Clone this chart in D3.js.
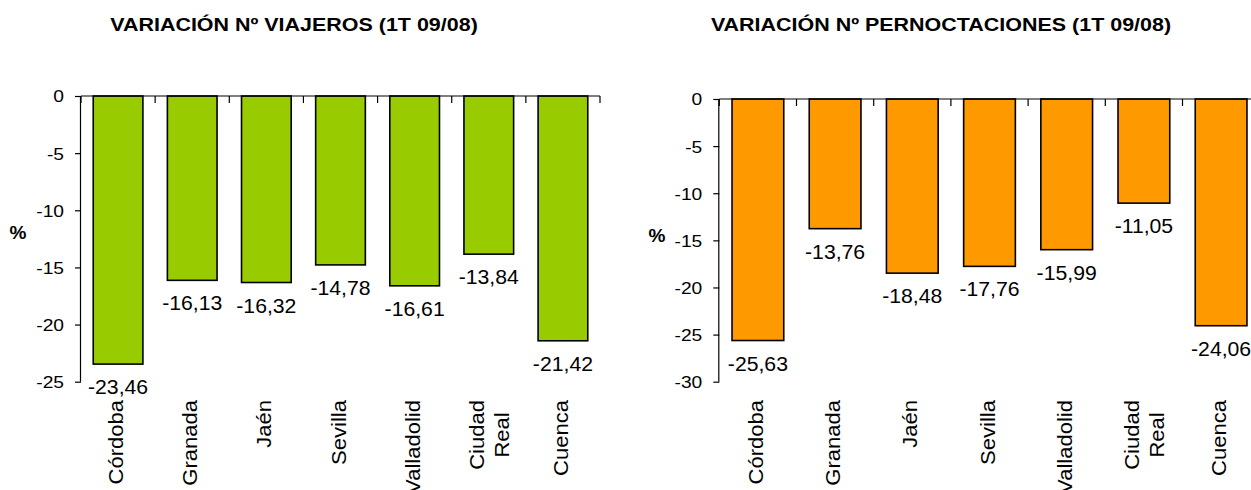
<!DOCTYPE html>
<html><head><meta charset="utf-8">
<script src="https://cdn.jsdelivr.net/npm/d3@7"></script>
<style>
html,body{margin:0;padding:0;background:#fff;}
svg text{font-family:Arial,"Liberation Sans",sans-serif;fill:#000;}
</style></head>
<body>
<svg id="c" width="1251" height="490"></svg>
<script>
const categories = ["Córdoba","Granada","Jaén","Sevilla","Valladolid","Ciudad Real","Cuenca"];
const categoryLines = [["Córdoba"],["Granada"],["Jaén"],["Sevilla"],["Valladolid"],["Ciudad","Real"],["Cuenca"]];
const viajeros = [-23.46,-16.13,-16.32,-14.78,-16.61,-13.84,-21.42];
const pernoctaciones = [-25.63,-13.76,-18.48,-17.76,-15.99,-11.05,-24.06];
const ticksViajeros = [0,-5,-10,-15,-20,-25];
const ticksPernoct = [0,-5,-10,-15,-20,-25,-30];
const titles = ["VARIACIÓN Nº VIAJEROS (1T 09/08)","VARIACIÓN Nº PERNOCTACIONES (1T 09/08)"];

const svg = d3.select("#c");

function stretch(sel, k){
  sel.each(function(){
    const w = this.getComputedTextLength();
    d3.select(this).attr("textLength", w*k).attr("lengthAdjust","spacingAndGlyphs");
  });
}

function drawChart(cfg){
  const g = svg.append("g");
  const y = d3.scaleLinear().domain([cfg.ticks[cfg.ticks.length-1],0]).range([cfg.yBottom, cfg.yTop]);
  const pad = 0.33;
  const x = d3.scaleBand().domain(categories).range([cfg.x0, cfg.x1]).paddingInner(pad).paddingOuter(pad/2);
  const step = x.step();
  const start = x(categories[0]) - step*pad/2;

  // title
  const t = g.append("text").attr("x", cfg.titleX).attr("y", 31)
    .attr("text-anchor","middle").attr("font-weight","bold").attr("font-size",18.5)
    .text(cfg.title);
  stretch(t, 1.16);

  // bars
  g.selectAll("rect.bar").data(cfg.values).join("rect")
    .attr("class","bar")
    .attr("x",(d,i)=>x(categories[i]))
    .attr("y",y(0))
    .attr("width",x.bandwidth())
    .attr("height",d=>y(d)-y(0))
    .attr("fill",cfg.color).attr("stroke","#000").attr("stroke-width",1.6);

  // y axis
  const ya = g.append("g").attr("transform",`translate(${cfg.x0},0)`)
    .call(d3.axisLeft(y).tickValues(cfg.ticks).tickSize(6).tickPadding(11).tickFormat(d=>String(d)));
  ya.select(".domain").attr("d",`M-0.5,${y(0)}V${cfg.yBottom}`).attr("stroke","#000").attr("stroke-width",1.2);
  ya.selectAll(".tick line").attr("stroke","#000").attr("stroke-width",1.2);
  ya.selectAll(".tick text").attr("font-size",17).attr("font-family",'Arial,"Liberation Sans",sans-serif').attr("fill","#000").attr("dy","0.35em");
  stretch(ya.selectAll(".tick text"), 1.13);

  // category axis at zero
  g.append("line").attr("x1",cfg.x0).attr("x2",cfg.x1).attr("y1",y(0)).attr("y2",y(0))
    .attr("stroke","#000").attr("stroke-width",1.2);
  g.selectAll("line.ct").data(d3.range(categories.length+1)).join("line").attr("class","ct")
    .attr("x1",i=>start+i*step).attr("x2",i=>start+i*step)
    .attr("y1",y(0)).attr("y2",y(0)+7).attr("stroke","#000").attr("stroke-width",1.2);

  // value labels
  const vl = g.selectAll("text.val").data(cfg.values).join("text").attr("class","val")
    .attr("x",(d,i)=>x(categories[i])+x.bandwidth()/2)
    .attr("y",d=>y(d)+30)
    .attr("text-anchor","middle").attr("font-size",20)
    .text(d=>d.toFixed(2).replace(".",","));
  stretch(vl, 1.06);

  // category labels
  categoryLines.forEach((lines,i)=>{
    const cx = x(categories[i]) + x.bandwidth()/2;
    const lg = g.append("g").attr("transform",`translate(${cx},400) rotate(-90)`);
    const texts = lines.map((s,j)=>lg.append("text").attr("font-size",19.5).text(s));
    texts.forEach(tt=>stretch(tt,1.13));
    const maxW = d3.max(texts,tt=>+tt.attr("textLength"));
    const offs = lines.length===1 ? [5] : [-4.5,20.5];
    texts.forEach((tt,j)=>{
      tt.attr("text-anchor","middle").attr("x",-maxW/2).attr("y",offs[j]);
    });
  });

  // % label
  g.append("text").attr("x",cfg.pctX).attr("y",cfg.pctY).attr("text-anchor","middle")
    .attr("font-weight","bold").attr("font-size",19).text("%");
}

drawChart({title:titles[0], titleX:294, values:viajeros, ticks:ticksViajeros, color:"#99CC00",
  x0:81, x1:600, yTop:96, yBottom:381.7, pctX:18, pctY:239});
drawChart({title:titles[1], titleX:941, values:pernoctaciones, ticks:ticksPernoct, color:"#FF9900",
  x0:719.3, x1:1259.7, yTop:99, yBottom:381.7, pctX:657, pctY:242});
</script>
</body></html>
